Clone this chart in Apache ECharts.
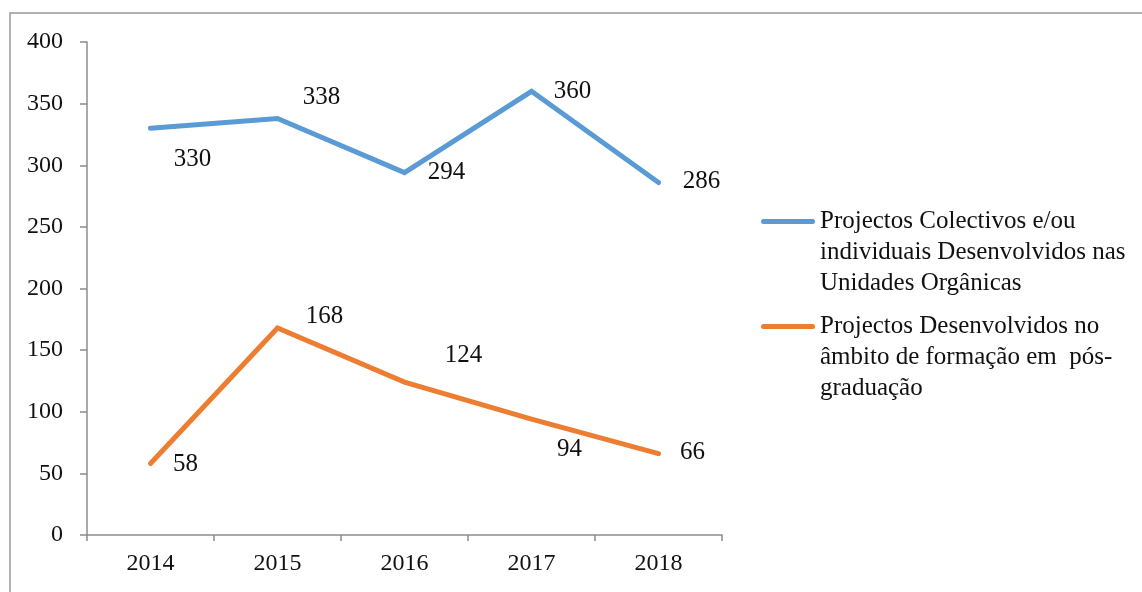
<!DOCTYPE html>
<html>
<head>
<meta charset="utf-8">
<script src="https://cdn.jsdelivr.net/npm/echarts@6/dist/echarts.min.js"></script>
<style>
  html, body { margin: 0; padding: 0; background: #fff; }
  #chart { width: 1142px; height: 592px; }
</style>
</head>
<body>
<div id="chart"></div>
<script>
// anos
var years = ['2014', '2015', '2016', '2017', '2018'];
// series
var colectivos = [330, 338, 294, 360, 286];
var posGraduacao = [58, 168, 124, 94, 66];
// posição dos rótulos (offset em px a partir do ponto)
var colectivosOffsets = [[42, 31], [44, -21], [42, 0], [41, 0], [43, -1]];
var posGraduacaoOffsets = [[35, 1], [47, -12], [59, -27], [38, 30], [34, -1]];
var nomeColectivos = 'Projectos Colectivos e/ou\nindividuais Desenvolvidos nas\nUnidades Orgânicas';
var nomePos = 'Projectos Desenvolvidos no\nâmbito de formação em  pós-\ngraduação';

var fonte = 'Liberation Serif';
var cinza = '#8c8c8c';

// icone da legenda: traço na altura da 1a linha do texto (caixa 54 x 93)
var iconeLegenda = 'path://M0,0M54,93M2.5,13L51.5,13A2.5,2.5,0,0,1,51.5,18L2.5,18A2.5,2.5,0,0,1,2.5,13Z';

function buildData(values, offsets) {
	var out = [];
	for (var i = 0; i < values.length; i++) {
		out.push({
			value: values[i],
			label: { offset: offsets[i] }
		});
	}
	return out;
}

function legendItem(name, top) {
	return {
		data: [name],
		orient: 'vertical',
		left: 761,
		top: top,
		padding: 0,
		icon: iconeLegenda,
		itemWidth: 54,
		itemHeight: 93,
		itemGap: 0,
		selectedMode: false,
		itemStyle: { borderWidth: 0 },
		textStyle: {
			fontFamily: fonte,
			fontSize: 25,
			color: '#111',
			lineHeight: 31
		}
	};
}

var chart = echarts.init(document.getElementById('chart'));
var option = {
	animation: false,
	backgroundColor: '#fff',
	graphic: [{
		type: 'rect',
		shape: { x: 10, y: 13, width: 1300, height: 800 },
		style: { fill: 'none', stroke: '#999', lineWidth: 1.5 },
		silent: true
	}],
	grid: { left: 87, right: 420, top: 42, bottom: 57 },
	legend: [
		legendItem(nomeColectivos, 206),
		legendItem(nomePos, 311)
	],
	xAxis: {
		type: 'category',
		data: years,
		boundaryGap: true,
		axisLine: { lineStyle: { color: cinza, width: 1.5 } },
		axisTick: { show: true, length: 6, lineStyle: { color: cinza, width: 1.5 } },
		axisLabel: { fontFamily: fonte, fontSize: 24, color: '#111', margin: 17 }
	},
	yAxis: {
		type: 'value',
		min: 0,
		max: 400,
		interval: 50,
		axisLine: { show: true, lineStyle: { color: cinza, width: 1.5 } },
		axisTick: { show: true, length: 7, lineStyle: { color: cinza, width: 1.5 } },
		splitLine: { show: false },
		axisLabel: { fontFamily: fonte, fontSize: 24, color: '#111', margin: 24 }
	},
	series: [
		{
			name: nomeColectivos,
			type: 'line',
			data: buildData(colectivos, colectivosOffsets),
			symbol: 'circle',
			symbolSize: 1,
			itemStyle: { color: '#5b9bd5' },
			lineStyle: { color: '#5b9bd5', width: 5, cap: 'round', join: 'miter' },
			label: {
				show: true,
				position: 'inside',
				fontFamily: fonte,
				fontSize: 25,
				color: '#111'
			}
		},
		{
			name: nomePos,
			type: 'line',
			data: buildData(posGraduacao, posGraduacaoOffsets),
			symbol: 'circle',
			symbolSize: 1,
			itemStyle: { color: '#ed7d31' },
			lineStyle: { color: '#ed7d31', width: 5, cap: 'round', join: 'miter' },
			label: {
				show: true,
				position: 'inside',
				fontFamily: fonte,
				fontSize: 25,
				color: '#111'
			}
		}
	]
};
chart.setOption(option);
</script>
</body>
</html>
